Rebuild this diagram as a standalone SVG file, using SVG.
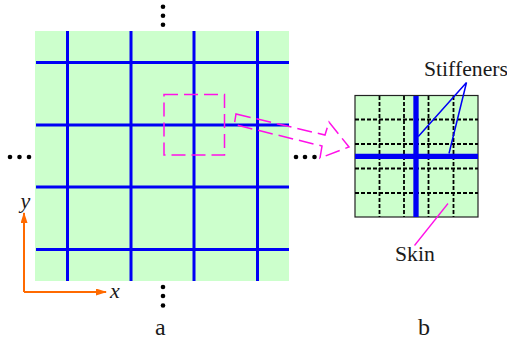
<svg xmlns="http://www.w3.org/2000/svg" width="507" height="343" viewBox="0 0 507 343">
<style>
text{font-family:"Liberation Serif","Times New Roman",serif;fill:#1a1a1a}
.lab{font-size:21.700px}
.cap{font-size:24px}
.it{font-size:22px;font-style:italic}
.st{stroke:#0000f5;stroke-width:3;fill:none}
.dash{stroke:#000;stroke-width:1.800;stroke-dasharray:4 2;fill:none}
.mg{stroke:#ff10e8;stroke-width:1.500;fill:none}
.dot{fill:#000}
</style>
<defs><marker id="ah" markerWidth="11" markerHeight="8" refX="10" refY="3.500" orient="auto" markerUnits="userSpaceOnUse"><path d="M0 0L11 3.500L0 7Z" fill="#ff6a00"/></marker></defs>
<g id="panel-a">
<rect x="35" y="31" width="254" height="250" fill="#ccffcc"/>
<path class="st" d="M67.500 31V281M131 31V281M194 31V281M257.500 31V281M36 62.500H289M36 125H289M36 187H289M36 249.500H289"/>
</g>
<g id="panel-b">
<rect x="355" y="95.500" width="123" height="121.500" fill="#ccffcc" stroke="#222" stroke-width="1.200"/>
<path class="dash" d="M379.500 96V217M404 96V217M428.500 96V217M453.500 96V217M355 119.500H478M355 144H478M355 168.500H478M355 193H478"/>
<path stroke="#0000f5" stroke-width="5.300" fill="none" d="M416 96V217M355 156.300H478"/>
</g>
<g id="connectors">
<path class="mg" stroke-dasharray="14 6" d="M164 94.500H224.500V155H164Z"/>
<path class="mg" stroke-dasharray="15 6" d="M236 114L325 135L329 122L349 147L320 158L322 146L234.300 124.500Z"/>
<path stroke="#0000f5" stroke-width="1.500" fill="none" d="M418.300 136.500L466.500 82.500L449 153.500"/>
<path stroke="#ff10e8" stroke-width="1.300" fill="none" d="M448 203.500L414.500 245.500"/>
<path stroke="#ff6a00" stroke-width="2" fill="none" marker-end="url(#ah)" d="M24 292V213"/>
<path stroke="#ff6a00" stroke-width="2" fill="none" marker-end="url(#ah)" d="M24 292H106"/>
</g>
<g id="dots-top" class="dot"><circle cx="163" cy="6.700" r="2.300"/><circle cx="163" cy="15.700" r="2.300"/><circle cx="163" cy="24.700" r="2.300"/></g>
<g id="dots-bottom" class="dot"><circle cx="163" cy="287" r="2.300"/><circle cx="163" cy="296" r="2.300"/><circle cx="163" cy="305.500" r="2.300"/></g>
<g id="dots-left" class="dot"><circle cx="10" cy="157" r="2.300"/><circle cx="19.500" cy="157" r="2.300"/><circle cx="29" cy="157" r="2.300"/></g>
<g id="dots-right" class="dot"><circle cx="296" cy="157" r="2.300"/><circle cx="305" cy="157" r="2.300"/><circle cx="314.500" cy="157" r="2.300"/></g>
<g id="labels">
<text class="it" x="20.500" y="208">y</text>
<text class="it" x="110" y="298">x</text>
<text class="lab" x="424" y="75.500">Stiffeners</text>
<text class="lab" x="395" y="261">Skin</text>
<text class="cap" x="155" y="335">a</text>
<text class="cap" x="418" y="335">b</text>
</g>
</svg>
